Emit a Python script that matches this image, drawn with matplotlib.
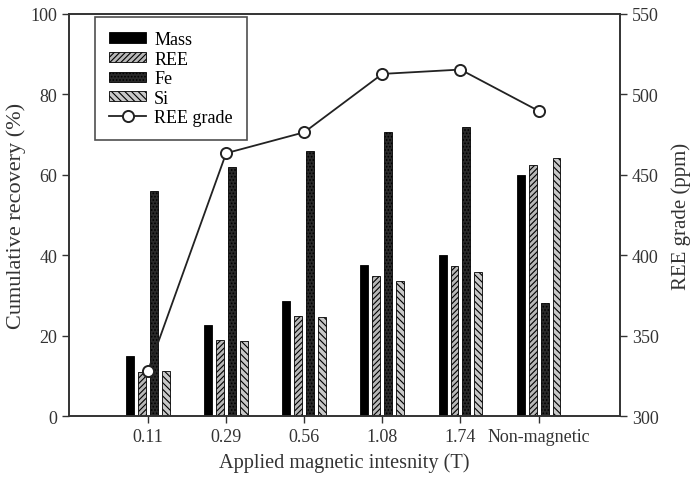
import matplotlib
matplotlib.use('Agg')
import matplotlib.pyplot as plt
import numpy as np

# -- data
categories = ['0.11', '0.29', '0.56', '1.08', '1.74', 'Non-magnetic']
mass = [15.0, 22.6, 28.6, 37.6, 40.0, 60.0]
ree = [11.0, 18.9, 24.9, 34.9, 37.4, 62.5]
fe = [56.0, 61.9, 65.8, 70.7, 72.0, 28.0]
si = [11.2, 18.7, 24.7, 33.5, 35.9, 64.2]
ree_grade = [328.2, 463.4, 476.4, 512.7, 515.4, 489.7]

plt.rcParams['font.family'] = ['Liberation Serif', 'DejaVu Serif']
plt.rcParams['hatch.linewidth'] = 0.8

fig = plt.figure(figsize=(6.91, 4.81), dpi=100)
ax = fig.add_axes([0.1, 0.133, 0.797, 0.836])
ax2 = ax.twinx()

x = np.arange(len(categories))
step = 0.153
width = 0.102

ax.bar(x - 1.5 * step, mass, width, color='black', edgecolor='black', lw=0.6, label='Mass')
ax.bar(x - 0.5 * step, ree, width, color='#b8b8b8', edgecolor='black', hatch='//////', lw=0.6, label='REE')
ax.bar(x + 0.5 * step, fe, width, color='#2a2a2a', edgecolor='black', hatch='.....', lw=0.6, label='Fe')
ax.bar(x + 1.5 * step, si, width, color='#c8c8c8', edgecolor='black', hatch='\\\\\\\\\\', lw=0.6, label='Si')

line, = ax2.plot(x, ree_grade, color='#222222', lw=1.3, marker='o', ms=8,
                 mfc='white', mec='#222222', mew=1.4, label='REE grade')

# -- axes styling
ax.set_xlim(-1.01, 6.04)
ax.set_ylim(0, 100)
ax2.set_ylim(300, 550)
ax.set_xticks(x)
ax.set_xticklabels(categories)
ax.set_yticks(np.arange(0, 101, 20))
ax2.set_yticks(np.arange(300, 551, 50))

for a in (ax, ax2):
    a.tick_params(direction='out', length=5, width=1, labelsize=13, colors='#333333')
    for s in a.spines.values():
        s.set_linewidth(1.2)
        s.set_color('#333333')

ax.set_xlabel('Applied magnetic intesnity (T)', fontsize=14.6, color='#333333', labelpad=5)
ax.set_ylabel('Cumulative recovery (%)', fontsize=16, color='#333333', labelpad=3)
ax2.set_ylabel('REE grade (ppm)', fontsize=15, color='#333333', labelpad=9)

ax.set_zorder(ax2.get_zorder() - 1)
ax2.patch.set_visible(False)

h1, l1 = ax.get_legend_handles_labels()
leg = ax2.legend(h1 + [line], l1 + ['REE grade'], loc='upper left',
                 bbox_to_anchor=(0.047, 0.9925), borderaxespad=0, fontsize=13,
                 frameon=True, fancybox=False, edgecolor='#222222',
                 handlelength=2.05, handleheight=0.5, labelspacing=0.14,
                 borderpad=0.78, handletextpad=0.45)
leg.get_frame().set_linewidth(1.2)

fig.savefig('out.png', dpi=100)
